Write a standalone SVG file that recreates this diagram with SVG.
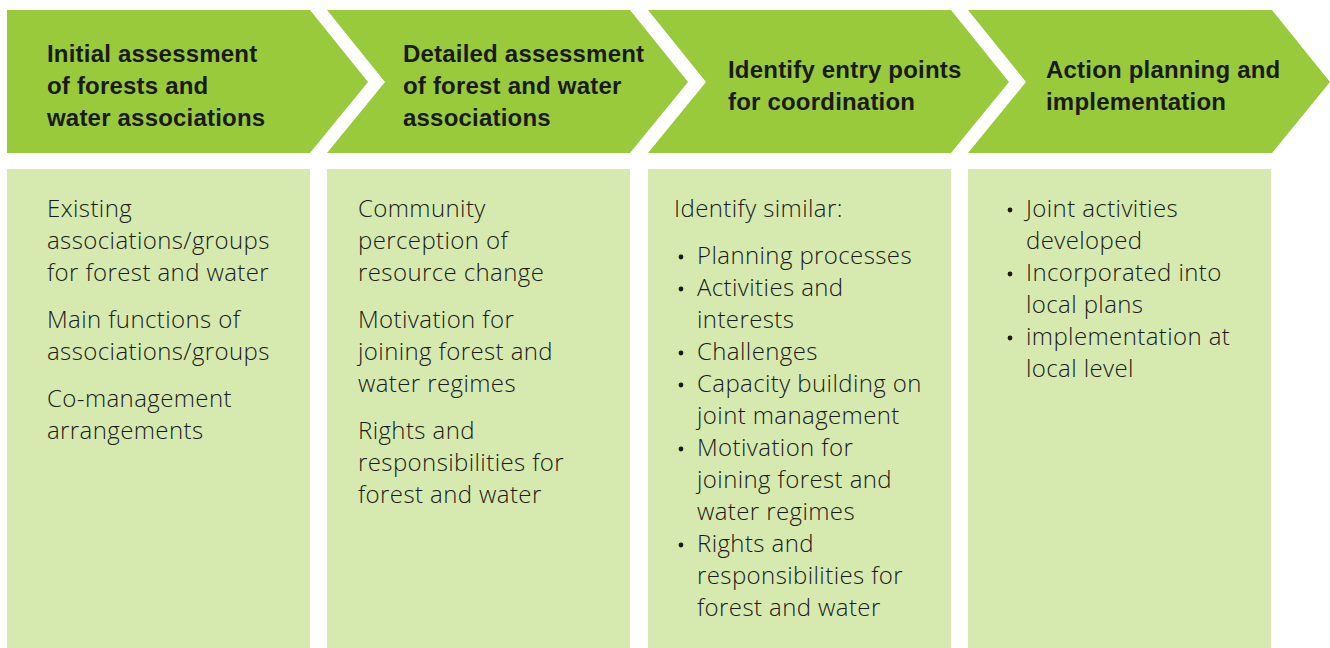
<svg xmlns="http://www.w3.org/2000/svg" width="1330" height="648" viewBox="0 0 1330 648">
  <style>
    .chev { fill: #99CA3C; }
    .panel { fill: #D6EAB0; }
    .head { font-family: "Liberation Sans", Arial, sans-serif; font-weight: 700; font-size: 24px; letter-spacing: 0.2px; fill: #1a1a1a; }
    .body { font-family: "Open Sans", "Liberation Sans", sans-serif; font-weight: 300; font-size: 24px; letter-spacing: 0.4px; fill: #1a1a1a; }
    .dot { fill: #1a1a1a; }
  </style>

  <!-- Step 1 -->
  <g id="step1">
    <polygon class="chev" points="7,10 310,10 368,82 310,153 7,153"/>
    <text class="head" x="47" y="62">Initial assessment</text>
    <text class="head" x="47" y="94">of forests and</text>
    <text class="head" x="47" y="126">water associations</text>
    <rect class="panel" x="7" y="169" width="303" height="479"/>
    <g class="body">
      <text x="47" y="217">Existing</text>
      <text x="47" y="249">associations/groups</text>
      <text x="47" y="281">for forest and water</text>
      <text x="47" y="328">Main functions of</text>
      <text x="47" y="360">associations/groups</text>
      <text x="47" y="407">Co-management</text>
      <text x="47" y="439">arrangements</text>
    </g>
  </g>

  <!-- Step 2 -->
  <g id="step2">
    <polygon class="chev" points="327,10 630,10 688,82 630,153 327,153 385,82"/>
    <text class="head" x="403" y="62">Detailed assessment</text>
    <text class="head" x="403" y="94">of forest and water</text>
    <text class="head" x="403" y="126">associations</text>
    <rect class="panel" x="327" y="169" width="303" height="479"/>
    <g class="body">
      <text x="358" y="217">Community</text>
      <text x="358" y="249">perception of</text>
      <text x="358" y="281">resource change</text>
      <text x="358" y="328">Motivation for</text>
      <text x="358" y="360">joining forest and</text>
      <text x="358" y="392">water regimes</text>
      <text x="358" y="439">Rights and</text>
      <text x="358" y="471">responsibilities for</text>
      <text x="358" y="503">forest and water</text>
    </g>
  </g>

  <!-- Step 3 -->
  <g id="step3">
    <polygon class="chev" points="648,10 951,10 1009,82 951,153 648,153 706,82"/>
    <text class="head" x="728" y="78">Identify entry points</text>
    <text class="head" x="728" y="110">for coordination</text>
    <rect class="panel" x="648" y="169" width="303" height="479"/>
    <g class="body">
      <text x="674" y="217">Identify similar:</text>
      <text x="697" y="264">Planning processes</text>
      <text x="697" y="296">Activities and</text>
      <text x="697" y="328">interests</text>
      <text x="697" y="360">Challenges</text>
      <text x="697" y="392">Capacity building on</text>
      <text x="697" y="424">joint management</text>
      <text x="697" y="456">Motivation for</text>
      <text x="697" y="488">joining forest and</text>
      <text x="697" y="520">water regimes</text>
      <text x="697" y="552">Rights and</text>
      <text x="697" y="584">responsibilities for</text>
      <text x="697" y="616">forest and water</text>
    </g>
    <g class="dot">
      <circle cx="681" cy="257" r="2.4"/>
      <circle cx="681" cy="289" r="2.4"/>
      <circle cx="681" cy="353" r="2.4"/>
      <circle cx="681" cy="385" r="2.4"/>
      <circle cx="681" cy="449" r="2.4"/>
      <circle cx="681" cy="545" r="2.4"/>
    </g>
  </g>

  <!-- Step 4 -->
  <g id="step4">
    <polygon class="chev" points="968,10 1272,10 1330,82 1272,153 968,153 1026,82"/>
    <text class="head" x="1046" y="78">Action planning and</text>
    <text class="head" x="1046" y="110">implementation</text>
    <rect class="panel" x="968" y="169" width="303" height="479"/>
    <g class="body">
      <text x="1026" y="217">Joint activities</text>
      <text x="1026" y="249">developed</text>
      <text x="1026" y="281">Incorporated into</text>
      <text x="1026" y="313">local plans</text>
      <text x="1026" y="345">implementation at</text>
      <text x="1026" y="377">local level</text>
    </g>
    <g class="dot">
      <circle cx="1010" cy="210" r="2.4"/>
      <circle cx="1010" cy="274" r="2.4"/>
      <circle cx="1010" cy="338" r="2.4"/>
    </g>
  </g>

  <!-- flow between steps is carried by the chevron shapes themselves -->
  <g id="connectors"/>
</svg>
